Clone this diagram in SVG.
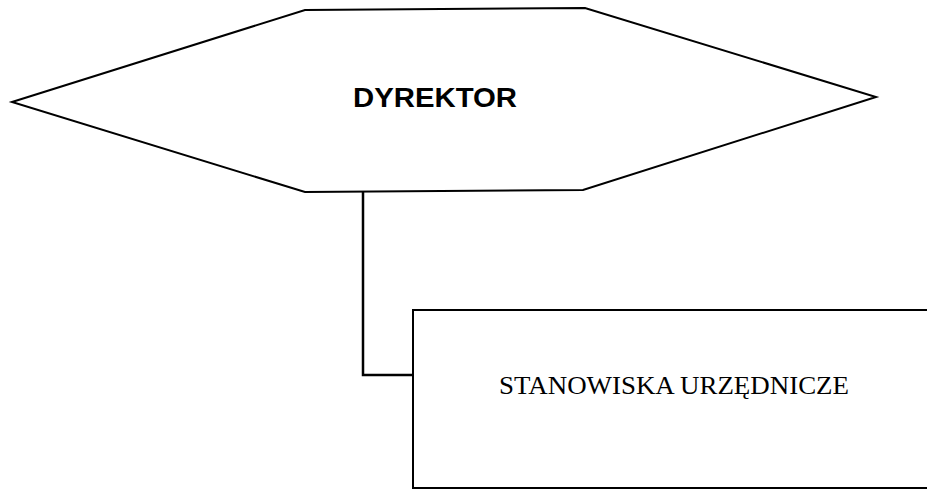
<svg xmlns="http://www.w3.org/2000/svg" width="927" height="490" viewBox="0 0 927 490">
<style>
.shape{fill:#fff;stroke:#000;stroke-width:2;stroke-linejoin:miter}
.conn{fill:none;stroke:#000;stroke-width:2.5}
.t1{font-family:"Liberation Sans",Arial,sans-serif;font-weight:bold;font-size:27px;fill:#000}
.t2{font-family:"Liberation Serif","Times New Roman",serif;font-size:26px;fill:#000}
</style>
<rect width="927" height="490" fill="#fff"/>
<g id="connectors">
<polyline class="conn" points="363,191 363,375 413,375"/>
</g>
<g id="dyrektor">
<polygon class="shape" points="12,102 305,10 585,8 876,97 583,190 305,192"/>
<text class="t1" x="353" y="107" textLength="164" lengthAdjust="spacingAndGlyphs">DYREKTOR</text>
</g>
<g id="stanowiska">
<rect class="shape" x="413" y="310" width="520" height="178"/>
<text class="t2" x="499" y="394" textLength="350" lengthAdjust="spacingAndGlyphs">STANOWISKA URZĘDNICZE</text>
</g>
</svg>
